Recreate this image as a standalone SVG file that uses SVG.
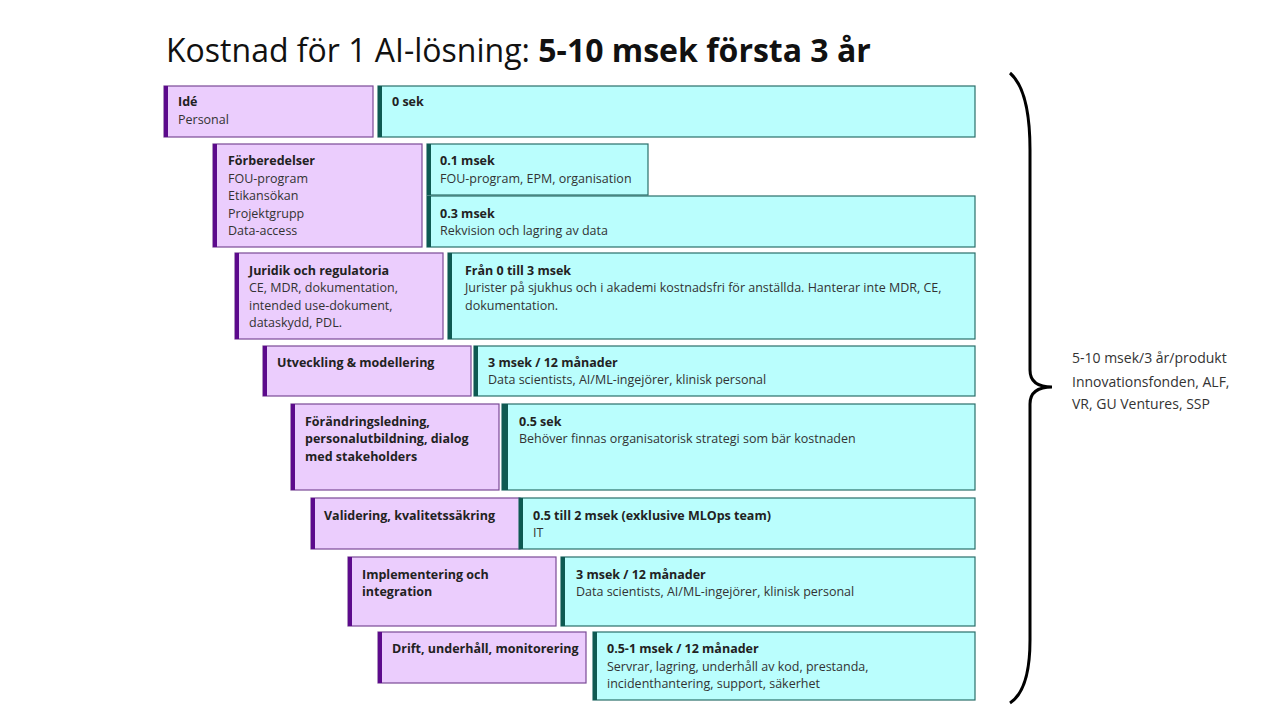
<svg xmlns="http://www.w3.org/2000/svg" width="1276" height="719" viewBox="0 0 1276 719">
<style>
text{font-family:"Open Sans","Liberation Sans",sans-serif;font-size:12.5px;fill:#333}
.b{font-weight:bold;fill:#222}
.p{fill:#ebcdfd;stroke:#7a4a96;stroke-width:1.2}
.pb{fill:#5c0a8c}
.c{fill:#bafefd;stroke:#2a6e6a;stroke-width:1.2}
.cb{fill:#0e5a52}
</style>
<rect width="1276" height="719" fill="#fff"/>
<text x="166" y="62" style="font-size:32px;fill:#111">Kostnad för 1 AI-lösning: <tspan font-weight="bold">5-10 msek första 3 år</tspan></text>

<g id="idé"><rect class="p" x="164" y="86" width="209" height="51"/><rect class="pb" x="164" y="86" width="4" height="51"/>
<text x="178" y="106" class="b">Idé</text><text x="178" y="124">Personal</text></g>
<g id="c1"><rect class="c" x="378" y="86" width="597" height="51"/><rect class="cb" x="378" y="86" width="4" height="51"/>
<text x="392" y="106" class="b">0 sek</text></g>

<g id="forb"><rect class="p" x="213" y="144" width="209" height="103"/><rect class="pb" x="213" y="144" width="4" height="103"/>
<text x="228" y="165" class="b">Förberedelser</text><text x="228" y="183">FOU-program</text><text x="228" y="200">Etikansökan</text><text x="228" y="218">Projektgrupp</text><text x="228" y="235">Data-access</text></g>
<g id="c2a"><rect class="c" x="427" y="144" width="221" height="51"/><rect class="cb" x="427" y="144" width="4" height="51"/>
<text x="440" y="165" class="b">0.1 msek</text><text x="440" y="183">FOU-program, EPM, organisation</text></g>
<g id="c2b"><rect class="c" x="427" y="196" width="548" height="51"/><rect class="cb" x="427" y="196" width="4" height="51"/>
<text x="440" y="218" class="b">0.3 msek</text><text x="440" y="235">Rekvision och lagring av data</text></g>

<g id="jur"><rect class="p" x="235" y="253" width="208" height="86"/><rect class="pb" x="235" y="253" width="4" height="86"/>
<text x="249" y="275" class="b">Juridik och regulatoria</text><text x="249" y="292">CE, MDR, dokumentation,</text><text x="249" y="310">intended use-dokument,</text><text x="249" y="327">dataskydd, PDL.</text></g>
<g id="c3"><rect class="c" x="448" y="253" width="527" height="86"/><rect class="cb" x="448" y="253" width="4" height="86"/>
<text x="465" y="275" class="b">Från 0 till 3 msek</text><text x="465" y="292">Jurister på sjukhus och i akademi kostnadsfri för anställda. Hanterar inte MDR, CE,</text><text x="465" y="310">dokumentation.</text></g>

<g id="utv"><rect class="p" x="263" y="346" width="208" height="50"/><rect class="pb" x="263" y="346" width="4" height="50"/>
<text x="277" y="367" class="b">Utveckling &amp; modellering</text></g>
<g id="c4"><rect class="c" x="474" y="346" width="501" height="50"/><rect class="cb" x="474" y="346" width="4" height="50"/>
<text x="488" y="367" class="b">3 msek / 12 månader</text><text x="488" y="384">Data scientists, AI/ML-ingejörer, klinisk personal</text></g>

<g id="forand"><rect class="p" x="291" y="404" width="208" height="86"/><rect class="pb" x="291" y="404" width="4" height="86"/>
<text x="305" y="426" class="b">Förändringsledning,</text><text x="305" y="443" class="b">personalutbildning, dialog</text><text x="305" y="461" class="b">med stakeholders</text></g>
<g id="c5"><rect class="c" x="502" y="404" width="473" height="86"/><rect class="cb" x="502" y="404" width="6" height="86"/>
<text x="519" y="426" class="b">0.5 sek</text><text x="519" y="443">Behöver finnas organisatorisk strategi som bär kostnaden</text></g>

<g id="val"><rect class="p" x="311" y="498" width="209" height="51"/><rect class="pb" x="311" y="498" width="4" height="51"/>
<text x="324" y="520" class="b">Validering, kvalitetssäkring</text></g>
<g id="c6"><rect class="c" x="519" y="498" width="456" height="51"/><rect class="cb" x="519" y="498" width="4" height="51"/>
<text x="533" y="520" class="b">0.5 till 2 msek (exklusive MLOps team)</text><text x="533" y="537">IT</text></g>

<g id="impl"><rect class="p" x="348" y="557" width="208" height="69"/><rect class="pb" x="348" y="557" width="4" height="69"/>
<text x="362" y="579" class="b">Implementering och</text><text x="362" y="596" class="b">integration</text></g>
<g id="c7"><rect class="c" x="561" y="557" width="414" height="69"/><rect class="cb" x="561" y="557" width="4" height="69"/>
<text x="576" y="579" class="b">3 msek / 12 månader</text><text x="576" y="596">Data scientists, AI/ML-ingejörer, klinisk personal</text></g>

<g id="drift"><rect class="p" x="378" y="632" width="208" height="51"/><rect class="pb" x="378" y="632" width="4" height="51"/>
<text x="392" y="653" class="b">Drift, underhåll, monitorering</text></g>
<g id="c8"><rect class="c" x="593" y="632" width="382" height="68"/><rect class="cb" x="593" y="632" width="4" height="68"/>
<text x="607" y="653" class="b">0.5-1 msek / 12 månader</text><text x="607" y="671">Servrar, lagring, underhåll av kod, prestanda,</text><text x="607" y="688">incidenthantering, support, säkerhet</text></g>

<g id="connectors"><path d="M1010,73 Q1030,90 1030,150 L1030,370 Q1030,387 1052,387 Q1030,387 1030,404 L1030,640 Q1030,690 1010,703" fill="none" stroke="#000" stroke-width="3"/></g>
<g id="note"><text x="1072" y="363" style="font-size:14px">5-10 msek/3 år/produkt</text><text x="1072" y="387" style="font-size:14px">Innovationsfonden, ALF,</text><text x="1072" y="409" style="font-size:14px">VR, GU Ventures, SSP</text></g>
</svg>
